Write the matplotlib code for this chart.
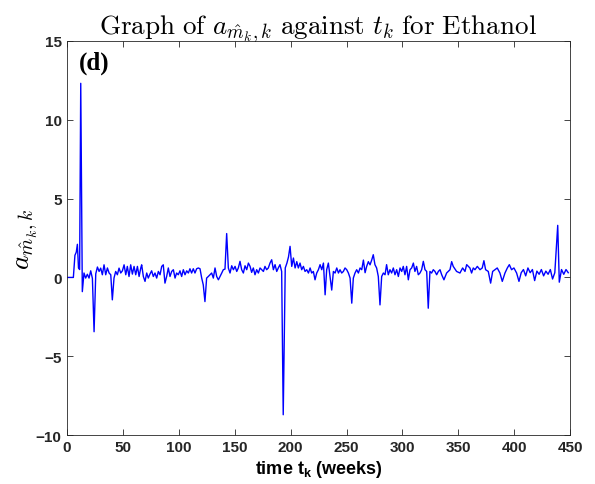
import numpy as np
import matplotlib
matplotlib.use('Agg')
import matplotlib.pyplot as plt

plt.rcParams['font.family'] = ['Liberation Sans', 'DejaVu Sans']
plt.rcParams['mathtext.fontset'] = 'custom'
plt.rcParams['mathtext.rm'] = 'Liberation Sans:bold'
plt.rcParams['mathtext.bf'] = 'Liberation Sans:bold'
plt.rcParams['mathtext.it'] = 'Liberation Sans:bold'

# time in weeks and the coefficient a_{m_k,k}
t_weeks = [1, 3, 5, 6.1, 7.5, 8.7, 9.7, 10.7, 11.7, 12.7, 14.1, 15.6, 17.1, 18.6, 20.1, 21.6,
           23.1, 24.6, 26.1, 27.6, 29.1, 30.5, 32, 33.5, 35, 36.5, 38, 39.5, 40.9, 42.4,
           43.9, 45.4, 46.9, 48.4, 49.9, 51.4, 52.9, 54.3, 55.8, 57.3, 58.8, 60.3, 61.8,
           63.3, 64.8, 66.3,
           67.1, 68.6, 70.1, 71.6, 73.0, 74.5, 76.0, 77.5, 79.0, 80.5, 82.0, 83.5, 85.0,
           86.4, 87.9, 89.4, 90.9, 92.4, 93.9, 95.4, 96.9, 98.3, 99.8, 101.3, 102.8, 104.3,
           105.8, 107.3, 108.8, 110.2, 111.7, 113.2, 114.7, 116.2, 117.7, 119.2, 120.7,
           122.1, 123.6, 125.1, 126.6, 128.1, 129.6, 131.1, 132.6, 134.1,
           135.6, 137.1, 138.6, 140.0, 141.5, 143.0, 144.5, 146.0, 147.5, 149.0, 150.5,
           152, 153.4, 154.9, 156.4, 157.9, 159.4, 160.9, 162.4, 163.9, 165.3, 166.8,
           168.3, 169.8, 171.3, 172.8, 174.3, 175.8, 177.2, 178.7, 180.2, 181.7, 183.2,
           184.7, 186.2, 187.7, 189.1, 190.6, 192.1, 193.5, 195.3, 196.8, 198.2, 199.6,
           201.1, 202.6, 204.1, 205.6, 207.0, 208.5, 210, 211.5, 213, 214.5, 216, 217.5,
           218.9, 220.4, 221.9, 223.4, 224.9, 226.4, 227.9, 229.4, 230.9, 232.3, 233.8,
           235.3, 236.8, 238.3, 239.8, 241.3, 242.8, 244.2, 245.7, 247.2, 248.7, 250.2,
           251.7, 253.2, 254.7, 256.1, 257.6, 259.1, 260.6, 262.1, 263.6, 265.1,
           266.6, 268, 269.5, 271, 272.5, 273.9, 275.4, 276.9, 278.4, 279.9, 281.4, 282.9,
           284.4, 285.8, 287.3, 288.8, 290.3, 291.8, 293.3, 294.8, 296.3, 297.8, 299.3,
           300.7, 302.2, 303.7, 305.2, 306.7, 308.2, 309.7, 311.1, 312.6, 314.1, 315.6,
           317.1, 318.6, 320.1, 321.6, 323.0, 324.5, 326, 327.5, 329, 330.5, 332, 333.5,
           335, 337, 339.4, 342.4, 343.9, 345.3, 348.3, 351.3, 353.7, 355.8, 357.3, 360.2,
           361.7, 363.2, 364.7, 366.8, 369.2, 371.2, 372.7, 374.2, 376.6, 378.7, 380.5,
           382.5, 384.6, 387, 389.1, 391.5, 393.6, 395.4, 397.4, 399.5, 401.9, 404,
           406, 408, 410, 412, 414, 416, 418, 420, 422, 424, 426, 428, 430, 432, 434, 436,
           438.6, 440, 442, 444, 446, 448]

a_coef = [0, 0, 0, 0, 1.4, 1.6, 2.1, 0.6, 0.5, 12.3, -0.9, 0.28, -0.04, 0.2, -0.04, 0.42,
          -0.06, -3.44, 0.23, 0.66, 0.38, 0.59, 0.17, 0.8, 0.17, 0.6, 0.28, 0.17, -1.42, -0.04,
          0.38, 0.17, 0.59, 0.28, 0.42, 0.8, 0.17, 0.7, 0.06, 0.8, 0.21, 0.7, 0.17,
          0.7, 0.06, 0.6,
          0.8, 0.06, -0.25, 0.28, -0.04, 0.21, 0.42, 0.06, 0.28, -0.04, 0.38, 0.17, 0.7,
          0.8, -0.36, 0.06, 0.6, 0.06, 0.38, 0.49, -0.04, 0.28, 0.17, 0.42, 0.06, 0.49,
          0.17, 0.42, 0.28, 0.55, 0.28, 0.55, 0.28, 0.55, 0.6, 0.55, -0.04,
          -0.47, -1.53, -0.04, 0.06, 0.17, 0.28, -0.04, 0.6, 0.06,
          -0.15, 0.06, 0.28, 0.49, 0.53, 2.78, 0.6, 0.28, 0.74, 0.49, 0.7,
          0.38, 0.6, 1.02, 0.49, 0.28, 0.74, 0.49, 0.91, 0.7, 0.32, 0.6,
          0.17, 0.49, 0.28, 0.6, 0.49, 0.38, 0.7, 0.49, 0.6, 0.91, 1.12,
          0.49, 0.81, 0.38, 0.6, 0.81, 0.38, -8.7, 0.6, 0.91, 1.3, 1.97,
          0.7, 1.23, 0.6, 1.0, 0.6, 0.91, 0.49, 0.7, 0.38, 0.49, 0.28, 0.6,
          0.28, 0.38, -0.15, 0.28, 0.49, 0.81, 0.49, 0.91, -1.1, 0.49, 0.91,
          0.06, -0.8, 0.38, 0.28, 0.6, 0.28, 0.49, 0.28, 0.38, 0.6, 0.49,
          0.28, -0.04, -1.63, -0.04, 0.28, 0.49, 0.28, 0.6, 0.49, 1.1,
          0.3, 0.7, 1.0, 0.8, 1.1, 1.44, 0.81, 0.6, 0.06, -1.74, 0.06, 0.28,
          0.17, 0.81, 0.17, 0.49, 0.28, 0.6, 0.17, 0.49, 0.06, 0.6, 0.38,
          0.7, 0.17, 0.7, -0.15, 0.49, 0.6, 0.91, 0.38, 0.7, 0.17, 0.28,
          0.49, 1.02, 0.49, 0.38, -1.95, 0.38, 0.28, 0.49, 0.38, 0.17, 0.38, 0.49,
          0.17, -0.15, 0.28, 0.49, 1.0, 0.7, 0.38, 0.28, 0.6, 0.38, 0.81, 0.6,
          0.28, 0.6, 0.49, 0.7, 0.49, 0.6, 1.06, 0.49, 0.38, -0.36, 0.38,
          0.49, 0.6, 0.28, -0.25, 0.28, 0.6, 0.81, 0.49, 0.6, 0.28, -0.25,
          0.3, 0.5, 0.1, 0.6, 0.3, 0.5, -0.2, 0.4, 0.2, 0.5, 0.1, 0.4, 0.2, 0.5, -0.1, 0.3,
          3.3, -0.3, 0.5, 0.2, 0.5, 0.3]

x_ticks = [0, 50, 100, 150, 200, 250, 300, 350, 400, 450]
y_ticks = [-10, -5, 0, 5, 10, 15]

fig = plt.figure(figsize=(5.95, 4.85), dpi=100)
ax = fig.add_axes([0.1118, 0.1005, 0.847, 0.8135])

ax.plot(t_weeks, a_coef, color='#0000ff', linewidth=1.0)

ax.set_xlim(0, 450)
ax.set_ylim(-10, 15)
ax.set_xticks(x_ticks)
ax.set_yticks(y_ticks)
ax.tick_params(direction='in', top=True, right=True, length=4, width=0.6,
               colors='#262626', labelsize=11)
for lab in ax.get_xticklabels() + ax.get_yticklabels():
    lab.set_fontweight('bold')
for s in ax.spines.values():
    s.set_color('#262626')
    s.set_linewidth(0.6)

ax.set_title(r'$\mathrm{Graph\ of\ }a_{\hat{m}_k,k}\mathrm{\ against\ }t_k\mathrm{\ for\ Ethanol}$',
             fontsize=19.5, math_fontfamily='cm', pad=5)
ax.set_ylabel(r'$a_{\hat{m}_k,k}$', fontsize=20, math_fontfamily='cm', labelpad=-3)
ax.set_xlabel(r'time t$_\mathbf{k}$ (weeks)', fontsize=13, fontweight='bold', labelpad=3)

ax.text(0.025, 0.945, '(d)', transform=ax.transAxes, fontsize=18, fontweight='bold',
        family='Liberation Serif', va='center', ha='left')

plt.savefig('out.png', dpi=100)
